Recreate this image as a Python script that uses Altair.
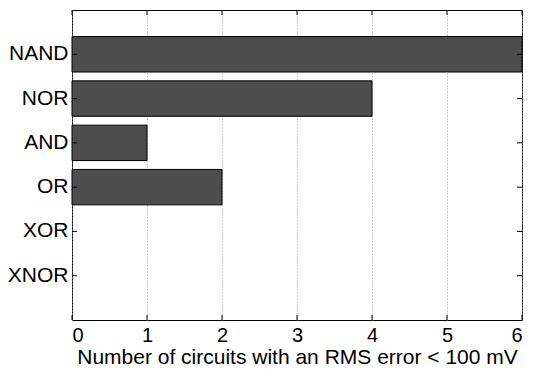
import altair as alt
import pandas as pd

gates = ["NAND", "NOR", "AND", "OR", "XOR", "XNOR"]
counts = [6, 4, 1, 2, 0, 0]
x_ticks = [0, 1, 2, 3, 4, 5, 6]

W, H = 450, 310
FONT = "Liberation Sans"
TL = 5

bars_df = pd.DataFrame({"gate": gates, "count": counts})
xt_df = pd.DataFrame({"count": x_ticks})
yt_df = pd.DataFrame({"gate": gates})

xscale = alt.Scale(domain=[0, 6], nice=False, zero=True)
yscale = alt.Scale(domain=gates, paddingInner=0.2, paddingOuter=0.6)

xaxis = alt.Axis(title="Number of circuits with an RMS error < 100 mV",
                 values=x_ticks, format="d", ticks=False, domain=False,
                 grid=True, gridDash=[1, 2], gridColor="#999999",
                 labelFont=FONT, labelFontSize=20, labelColor="black",
                 labelPadding=5, titleFont=FONT, titleFontSize=21,
                 titleFontWeight="normal", titleColor="black",
                 titleBaseline="alphabetic", titleY=43)
yaxis = alt.Axis(title=None, ticks=False, domain=False, grid=False,
                 labelFont=FONT, labelFontSize=21, labelColor="black",
                 labelPadding=4)

bars = alt.Chart(bars_df).mark_bar(color="#4d4d4d", stroke="black", strokeWidth=1).encode(
    x=alt.X("count:Q", scale=xscale, axis=xaxis),
    y=alt.Y("gate:N", scale=yscale, sort=gates, axis=yaxis),
    strokeOpacity=alt.condition("datum.count > 0", alt.value(1), alt.value(0)),
)

tick_bottom = alt.Chart(xt_df).mark_rule(color="black", strokeWidth=1).encode(
    x=alt.X("count:Q", scale=xscale, axis=xaxis),
    y=alt.value(H), y2=alt.value(H - TL))
tick_top = alt.Chart(xt_df).mark_rule(color="black", strokeWidth=1).encode(
    x=alt.X("count:Q", scale=xscale, axis=xaxis),
    y=alt.value(0), y2=alt.value(TL))
tick_left = alt.Chart(yt_df).mark_rule(color="black", strokeWidth=1).encode(
    y=alt.Y("gate:N", scale=yscale, sort=gates, axis=yaxis),
    x=alt.value(0), x2=alt.value(TL))
tick_right = alt.Chart(yt_df).mark_rule(color="black", strokeWidth=1).encode(
    y=alt.Y("gate:N", scale=yscale, sort=gates, axis=yaxis),
    x=alt.value(W - TL), x2=alt.value(W))

chart = alt.layer(bars, tick_bottom, tick_top, tick_left, tick_right).properties(
    width=W, height=H,
    background="white",
    autosize=alt.AutoSizeParams(type="none"),
    padding={"left": 64, "top": 2, "right": 6, "bottom": 48},
).configure_view(stroke="black", strokeWidth=1)

chart.save("out.html", embed_options={"renderer": "svg", "actions": False})
